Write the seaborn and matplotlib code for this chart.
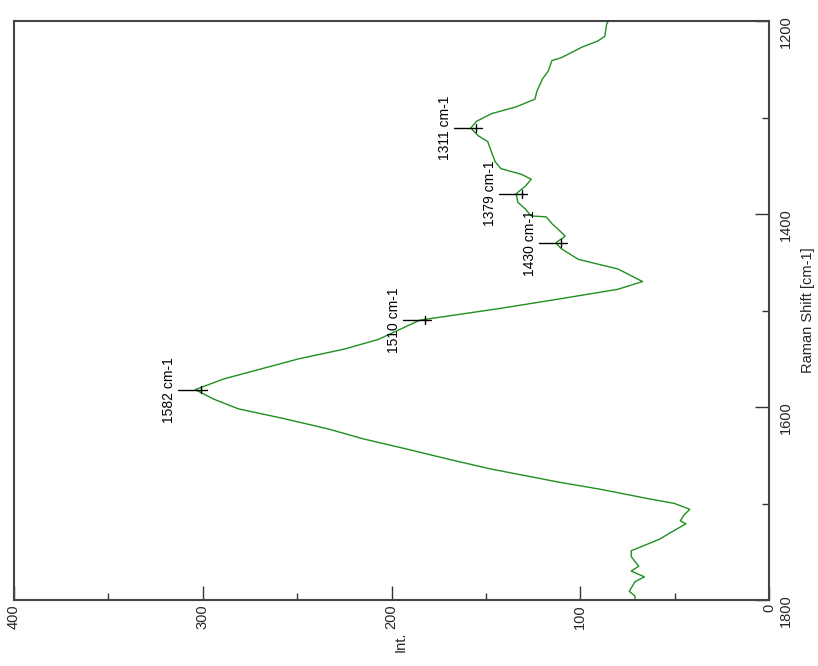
import matplotlib
matplotlib.use("Agg")
import matplotlib.pyplot as plt
import seaborn as sns
from matplotlib.ticker import MultipleLocator

# spectrum (Raman shift in cm-1, intensity)
shift = [1200, 1203, 1216, 1221, 1227, 1238, 1241, 1252, 1260, 1273, 1281,
         1289, 1296, 1304, 1311, 1319, 1325, 1336, 1346, 1353, 1359, 1364,
         1371, 1379, 1388, 1395, 1402, 1403, 1410, 1419, 1423, 1430, 1436,
         1447, 1457, 1470, 1478, 1488, 1498, 1510, 1520, 1530, 1540, 1550,
         1561, 1571, 1582, 1592, 1602, 1612, 1623, 1633, 1644, 1654, 1664,
         1678, 1685, 1695, 1700, 1706, 1712, 1718, 1721, 1730, 1737, 1749,
         1755, 1765, 1770, 1776, 1781, 1791, 1796, 1800]
intensity = [85, 86, 87, 91, 99, 110, 115, 117, 120, 123, 124,
             134, 147, 155, 158, 154, 149, 147, 145, 142, 131, 126,
             129, 134, 133, 129, 126, 118, 115, 110, 108, 113, 110,
             101, 80, 67, 80, 111, 143, 185, 196, 207, 225, 249,
             270, 289, 304, 294, 281, 257, 233, 215, 191, 170, 148,
             111, 90, 64, 50, 42, 45, 47, 44, 52, 58, 73,
             73, 69, 73, 66, 71, 74, 71, 71]

peak_shift = [1582, 1510, 1430, 1379, 1311]
peak_int = [304, 185, 113, 134, 158]
peak_labels = ["1582 cm-1", "1510 cm-1", "1430 cm-1", "1379 cm-1", "1311 cm-1"]

sns.set_style("white")
plt.rcParams["font.family"] = ["Liberation Sans", "DejaVu Sans"]

fig = plt.figure(figsize=(8.18, 6.66), dpi=100)
ax = fig.add_axes([14 / 818, 1 - 600 / 666, 755 / 818, 579 / 666])

sns.lineplot(x=intensity, y=shift, sort=False, estimator=None,
             color="#1f8f1f", linewidth=1, ax=ax)

# peak markers and labels
for s, i, lab in zip(peak_shift, peak_int, peak_labels):
    ax.plot([i + 9, i - 6], [s, s], color="black", lw=1)
    ax.plot([i - 3, i - 3], [s - 4, s + 4], color="black", lw=1)
    ax.text(i + 10, s, lab, rotation=90, ha="right", va="center",
            fontsize=10, color="black")

ax.set_xlim(400, 0)
ax.set_ylim(1800, 1200)
ax.xaxis.set_major_locator(MultipleLocator(100))
ax.xaxis.set_minor_locator(MultipleLocator(50))
ax.yaxis.set_major_locator(MultipleLocator(200))
ax.yaxis.set_minor_locator(MultipleLocator(100))
ax.yaxis.tick_right()
ax.yaxis.set_label_position("right")

ax.tick_params(axis="x", which="both", direction="in", bottom=True, top=False,
               labelrotation=90, labelsize=10.5, pad=3)
ax.tick_params(axis="y", which="both", direction="in", right=True, left=False,
               labelrotation=90, labelsize=10.5, pad=7)
ax.tick_params(which="major", length=10, width=1, color="#333333")
ax.tick_params(which="minor", length=5, width=1, color="#333333")

ax.set_xlabel("Int.", rotation=90, fontsize=10.5)
ax.xaxis.set_label_coords(0.512, -0.055)
ax.set_ylabel("Raman Shift [cm-1]", fontsize=10.5, labelpad=6)

for sp in ax.spines.values():
    sp.set_visible(True)
    sp.set_color("#444444")
    sp.set_linewidth(1.5)

fig.savefig("out.png", dpi=100)
